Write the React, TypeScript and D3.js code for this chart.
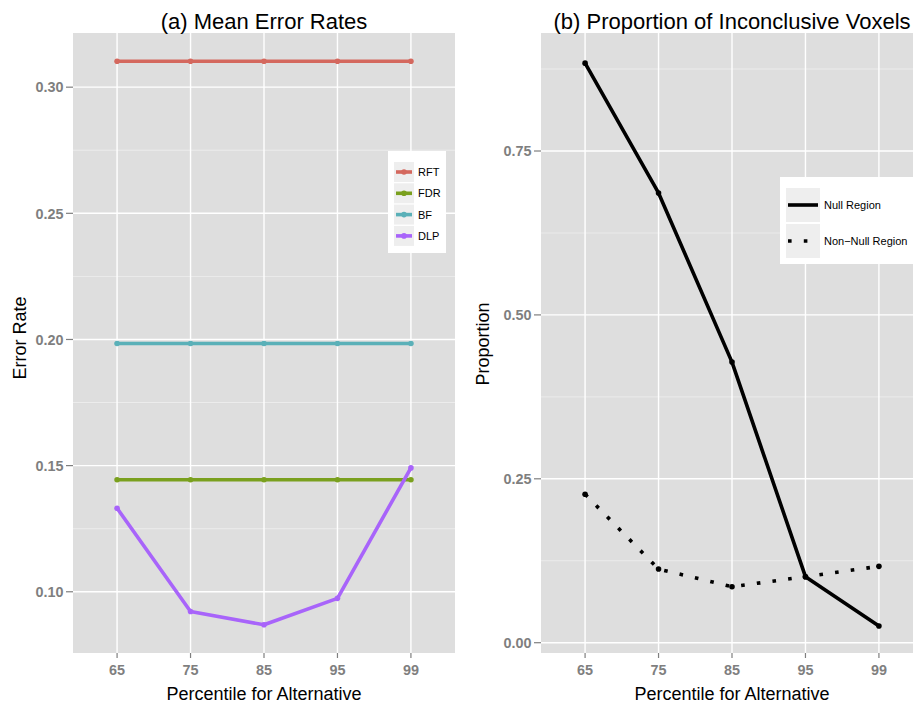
import React from 'react';
import * as d3 from 'd3';

// percentile categories on the x axis
const percentiles = ['65', '75', '85', '95', '99'];

// (a) mean error rates
const rftRates = [0.3103, 0.3103, 0.3103, 0.3103, 0.3103];
const fdrRates = [0.1444, 0.1444, 0.1444, 0.1444, 0.1444];
const bfRates = [0.1984, 0.1984, 0.1984, 0.1984, 0.1984];
const dlpRates = [0.1331, 0.0922, 0.0869, 0.0974, 0.1491];
const rateTicks = [0.1, 0.15, 0.2, 0.25, 0.3];
const rateMinor = [0.125, 0.175, 0.225, 0.275];

// (b) proportion of inconclusive voxels
const nullProp = [0.884, 0.686, 0.428, 0.1007, 0.0255];
const nonNullProp = [0.2264, 0.1124, 0.0854, 0.1007, 0.1165];
const propTicks = [0, 0.25, 0.5, 0.75];
const propMinor = [0.125, 0.375, 0.625, 0.875];
const propDomain = [-0.0157, 0.93];

const methodNames = ['RFT', 'FDR', 'BF', 'DLP'];
const methodColors = ['#D4685E', '#7AA01E', '#5AB0B8', '#A864FA'];
const regionNames = ['Null Region', 'Non\u2212Null Region'];

const FONT = '"Liberation Sans", Arial, Helvetica, sans-serif';
const PANEL_BG = '#DEDEDE';
const TOP = 33;
const BOTTOM = 653;

// 5% expansion like ggplot
const expand = (vals: number[]) => {
  const [lo, hi] = d3.extent(vals) as [number, number];
  const pad = (hi - lo) * 0.05;
  return [lo - pad, hi + pad];
};

type PanelProps = {
  x0: number;
  x1: number;
  y: d3.ScaleLinear<number, number>;
  ticks: number[];
  minor: number[];
  fmt: (v: number) => string;
  title: string;
  yTitle: string;
  yTitleX: number;
  yTitleY: number;
  children: (x: d3.ScalePoint<string>) => React.ReactNode;
};

const Panel = ({ x0, x1, y, ticks, minor, fmt, title, yTitle, yTitleX, yTitleY, children }: PanelProps) => {
  const x = d3.scalePoint<string>().domain(percentiles).range([x0, x1]).padding(0.6);
  const cx = (x0 + x1) / 2;
  return (
    <g>
      <rect x={x0} y={TOP} width={x1 - x0} height={BOTTOM - TOP} fill={PANEL_BG} />
      {minor.map((v) => (
        <line key={'m' + v} x1={x0} x2={x1} y1={y(v)} y2={y(v)} stroke="#EFEFEF" strokeWidth={0.8} />
      ))}
      {ticks.map((v) => (
        <line key={'g' + v} x1={x0} x2={x1} y1={y(v)} y2={y(v)} stroke="#fff" strokeWidth={1.4} />
      ))}
      {percentiles.map((p) => (
        <line key={'v' + p} x1={x(p)} x2={x(p)} y1={TOP} y2={BOTTOM} stroke="#fff" strokeWidth={1.4} />
      ))}
      {children(x)}
      {/* y axis */}
      {ticks.map((v) => (
        <g key={'t' + v}>
          <line x1={x0 - 7} x2={x0} y1={y(v)} y2={y(v)} stroke="#7f7f7f" strokeWidth={1.2} />
          <text x={x0 - 9.5} y={y(v)} dy="0.36em" textAnchor="end" fontSize={14.4} fontWeight="bold" fill="#7f7f7f">
            {fmt(v)}
          </text>
        </g>
      ))}
      {/* x axis */}
      {percentiles.map((p) => (
        <g key={'x' + p}>
          <line x1={x(p)} x2={x(p)} y1={BOTTOM} y2={BOTTOM + 5} stroke="#7f7f7f" strokeWidth={1.2} />
          <text x={x(p)} y={675} textAnchor="middle" fontSize={14.4} fontWeight="bold" fill="#7f7f7f">
            {p}
          </text>
        </g>
      ))}
      <text x={cx} y={700} textAnchor="middle" fontSize={18} fill="#000">
        Percentile for Alternative
      </text>
      <text
        transform={`translate(${yTitleX},${yTitleY}) rotate(-90)`}
        textAnchor="middle"
        fontSize={18}
        fill="#000"
      >
        {yTitle}
      </text>
      <text x={cx} y={29} textAnchor="middle" fontSize={22} fill="#000">
        {title}
      </text>
    </g>
  );
};

export default function App() {
  const yRate = d3
    .scaleLinear()
    .domain(expand([...rftRates, ...fdrRates, ...bfRates, ...dlpRates]))
    .range([BOTTOM, TOP]);
  const yProp = d3.scaleLinear().domain(propDomain).range([BOTTOM, TOP]);

  const rateSeries = [rftRates, fdrRates, bfRates, dlpRates];
  const propSeries = [nullProp, nonNullProp];

  return (
    <svg width={913} height={705} style={{ position: 'absolute', left: 0, top: 0, fontFamily: FONT }}>
      <rect width={913} height={705} fill="#fff" />

      <Panel
        x0={73}
        x1={455}
        y={yRate}
        ticks={rateTicks}
        minor={rateMinor}
        fmt={(v) => v.toFixed(2)}
        title="(a) Mean Error Rates"
        yTitle="Error Rate"
        yTitleX={25.5}
        yTitleY={338}
      >
        {(x) => {
          const line = d3
            .line<number>()
            .x((_, i) => x(percentiles[i]) as number)
            .y((d) => yRate(d));
          return rateSeries.map((vals, k) => (
            <g key={methodNames[k]}>
              <path d={line(vals) || ''} fill="none" stroke={methodColors[k]} strokeWidth={3.6} strokeLinejoin="round" />
              {vals.map((v, i) => (
                <circle key={i} cx={x(percentiles[i])} cy={yRate(v)} r={2.8} fill={methodColors[k]} />
              ))}
            </g>
          ));
        }}
      </Panel>

      <Panel
        x0={541}
        x1={923}
        y={yProp}
        ticks={propTicks}
        minor={propMinor}
        fmt={(v) => v.toFixed(2)}
        title="(b) Proportion of Inconclusive Voxels"
        yTitle="Proportion"
        yTitleX={489}
        yTitleY={344}
      >
        {(x) => {
          const line = d3
            .line<number>()
            .x((_, i) => x(percentiles[i]) as number)
            .y((d) => yProp(d));
          return propSeries.map((vals, k) => (
            <g key={regionNames[k]}>
              <path
                d={line(vals) || ''}
                fill="none"
                stroke="#000"
                strokeWidth={3.6}
                strokeDasharray={k === 1 ? '3.6 12.2' : undefined}
                strokeLinejoin="round"
              />
              {vals.map((v, i) => (
                <circle key={i} cx={x(percentiles[i])} cy={yProp(v)} r={2.8} fill="#000" />
              ))}
            </g>
          ));
        }}
      </Panel>

      {/* legend (a) */}
      <g>
        <rect x={388} y={151} width={58} height={102} fill="#fff" />
        {methodNames.map((name, i) => {
          const ky = 162 + i * 21.3;
          return (
            <g key={name}>
              <rect x={394} y={ky} width={20} height={20} fill="#EEEEEE" />
              <line x1={396} x2={412} y1={ky + 10} y2={ky + 10} stroke={methodColors[i]} strokeWidth={3.6} />
              <circle cx={404} cy={ky + 10} r={2.8} fill={methodColors[i]} />
              <text x={418} y={ky + 10} dy="0.36em" fontSize={11} fill="#000">
                {name}
              </text>
            </g>
          );
        })}
      </g>

      {/* legend (b) */}
      <g>
        <rect x={780} y={177} width={133} height={87} fill="#fff" />
        {regionNames.map((name, i) => {
          const ky = 188 + i * 36;
          return (
            <g key={name}>
              <rect x={786} y={ky} width={34} height={34} fill="#EEEEEE" />
              <line
                x1={788}
                x2={818}
                y1={ky + 17}
                y2={ky + 17}
                stroke="#000"
                strokeWidth={3.6}
                strokeDasharray={i === 1 ? '3.6 12.2' : undefined}
              />
              <text x={824} y={ky + 17} dy="0.36em" fontSize={11} fill="#000">
                {name}
              </text>
            </g>
          );
        })}
      </g>
    </svg>
  );
}
